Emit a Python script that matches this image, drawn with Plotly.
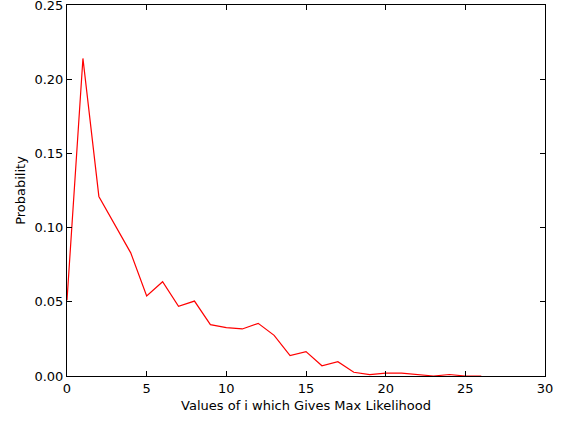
import plotly.graph_objects as go

x_values = list(range(0, 27))
probability = [0.051, 0.214, 0.121, 0.102, 0.083, 0.054, 0.0635, 0.047, 0.0505, 0.0346,
               0.0326, 0.0317, 0.0355, 0.0274, 0.0137, 0.0164, 0.0069, 0.0096, 0.0025,
               0.0009, 0.002, 0.002, 0.001, 0.0, 0.001, 0.0, 0.0]

x_ticks = [0, 5, 10, 15, 20, 25, 30]
y_ticks = [0.0, 0.05, 0.10, 0.15, 0.20, 0.25]

fig = go.Figure()
fig.add_trace(go.Scatter(x=x_values, y=probability, mode="lines",
                         line=dict(color="#ff0000", width=1.2)))

font = dict(family="DejaVu Sans", size=13, color="black")
axis_common = dict(showgrid=False, zeroline=False, showline=True, linecolor="black",
                   linewidth=1, mirror="ticks", ticks="inside", ticklen=5,
                   tickcolor="black", tickwidth=1, tickfont=font,
                   ticklabeloverflow="allow")

fig.update_layout(
    width=561, height=421,
    margin=dict(l=67, r=16, t=5, b=45),
    paper_bgcolor="white", plot_bgcolor="white",
    showlegend=False,
    font=font,
    xaxis=dict(range=[0, 30], tickvals=x_ticks, ticktext=[str(v) for v in x_ticks],
               automargin="bottom",
               title=dict(text="Values of i which Gives Max Likelihood", font=font, standoff=6),
               **axis_common),
    yaxis=dict(range=[0, 0.25], tickvals=y_ticks, tickformat=".2f",
               automargin="left",
               title=dict(text="Probability", font=font, standoff=5),
               **axis_common),
)

fig.write_html("out.html", config={"displayModeBar": False},
               post_script="document.body.style.margin='0';document.body.style.overflow='hidden';")
